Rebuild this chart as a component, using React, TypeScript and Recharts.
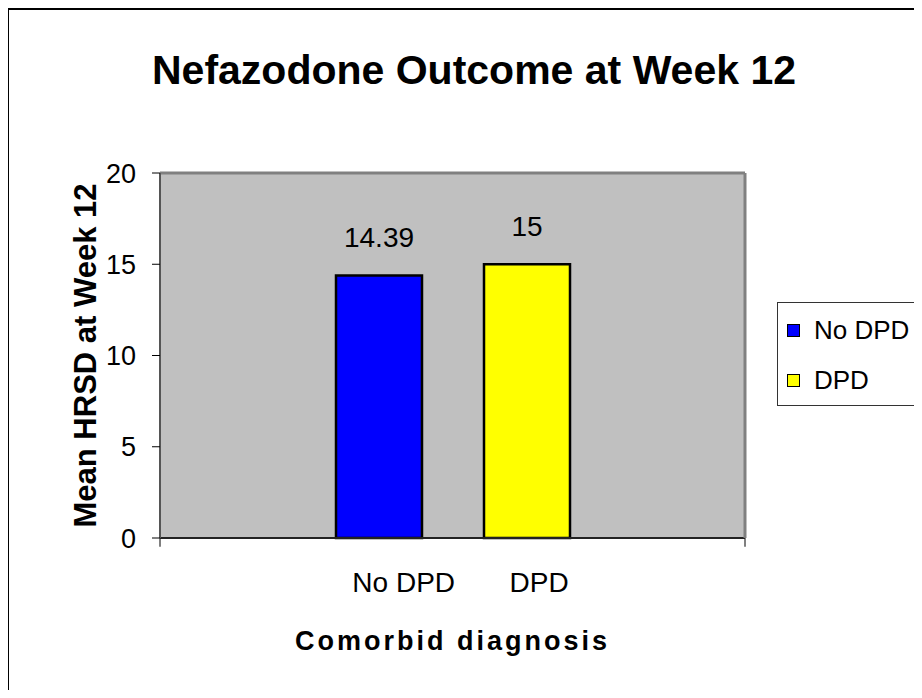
import { BarChart, Bar, XAxis, YAxis, Legend, LabelList, CartesianGrid, ReferenceLine } from 'recharts'

// one category holding two series, Excel style
const categories = ['No DPD       DPD']
const seriesNames = ['No DPD', 'DPD']
const seriesKeys = ['noDpd', 'dpd']
const seriesColors = ['#0000FF', '#FFFF00']
const noDpdValues = [14.39]
const dpdValues = [15]
const yTicks = [0, 5, 10, 15, 20]
const EDGE_TICK_DEPTH = -0.48 // in y units, small marks below the axis at the category edges

const data = categories.map((c, i) => ({ group: c, noDpd: noDpdValues[i], dpd: dpdValues[i] }))

const FONT = '"Liberation Sans", Arial, sans-serif'
const LEGEND_W = 170

function CategoryTick({ x, y, payload }: any) {
  return (
    <text x={x + 8} y={y + 46} textAnchor="middle" fontSize={28} fill="#000" fontFamily={FONT} style={{ whiteSpace: 'pre' }}>
      {payload.value}
    </text>
  )
}

function renderYLabel({ viewBox }: any) {
  const cy = viewBox.y + viewBox.height / 2
  const cx = viewBox.x + 85
  return (
    <text x={cx} y={cy} transform={`rotate(-90, ${cx}, ${cy})`} textAnchor="middle" dominantBaseline="central"
      fontSize={31} fontWeight="bold" fill="#000" fontFamily={FONT}>
      Mean HRSD at Week 12
    </text>
  )
}

function LegendBox({ payload }: any) {
  const items = [...(payload || [])].sort((a: any, b: any) => seriesNames.indexOf(a.value) - seriesNames.indexOf(b.value))
  return (
    <div style={{ border: '1px solid #333', width: LEGEND_W, height: 104, boxSizing: 'border-box', paddingTop: 2, paddingLeft: 9, fontFamily: FONT }}>
      {items.map((p: any) => (
        <div key={p.value} style={{ display: 'flex', alignItems: 'center', height: 50 }}>
          <span style={{ display: 'inline-block', width: 11, height: 11, background: p.color, border: '1.5px solid #000', marginRight: 14 }} />
          <span style={{ fontSize: 26, color: '#000' }}>{p.value}</span>
        </div>
      ))}
    </div>
  )
}

export default function App() {
  return (
    <div style={{ position: 'relative', margin: -8, width: 922, height: 698, overflow: 'hidden', background: '#fff', fontFamily: FONT }}>
      <div style={{ position: 'absolute', left: 6, top: 7, width: 1000, height: 800, border: '3px solid #000' }} />
      <div style={{ position: 'absolute', left: 0, width: 948, top: 50, textAlign: 'center', fontSize: 41, lineHeight: '40px', fontWeight: 'bold', color: '#000' }}>
        Nefazodone Outcome at Week 12
      </div>
      <div style={{ position: 'absolute', left: 0, top: 0 }}>
        <BarChart width={922} height={698} data={data} margin={{ top: 172, right: 177 - LEGEND_W - 1, left: 0, bottom: 0 }} barSize={86} barGap={62}>
          <CartesianGrid fill="#C0C0C0" horizontal={false} vertical={false} />
          <XAxis dataKey="group" tick={<CategoryTick />} tickLine={false} axisLine={{ stroke: '#222', strokeWidth: 2 }} height={160}
            label={{ value: 'Comorbid diagnosis', position: 'insideBottom', offset: 48, fontSize: 27, fontWeight: 'bold', fill: '#000', letterSpacing: 3, fontFamily: FONT }} />
          <XAxis xAxisId="top" dataKey="group" orientation="top" height={1} tick={false} tickLine={false} axisLine={{ stroke: '#808080', strokeWidth: 3 }} />
          <YAxis domain={[0, 20]} ticks={yTicks} width={160} tickSize={8} tickMargin={16}
            tick={{ fontSize: 27, fill: '#000', fontFamily: FONT }} tickLine={{ stroke: '#000' }}
            axisLine={{ stroke: '#555', strokeWidth: 2 }} label={renderYLabel} />
          <YAxis yAxisId="right" orientation="right" domain={[0, 20]} width={1} tick={false} tickLine={false}
            axisLine={{ stroke: '#808080', strokeWidth: 3 }} />
          {(['start', 'end'] as const).map(pos => (
            <ReferenceLine key={pos} position={pos} segment={[{ x: categories[0], y: 0 }, { x: categories[0], y: EDGE_TICK_DEPTH }]}
              stroke="#000" strokeWidth={1} ifOverflow="visible" />
          ))}
          <Legend content={<LegendBox />} layout="vertical" align="right" verticalAlign="middle" width={LEGEND_W}
            wrapperStyle={{ position: 'absolute', left: 777, top: 302, width: LEGEND_W }} />
          {seriesKeys.map((k, i) => (
            <Bar key={k} dataKey={k} name={seriesNames[i]} fill={seriesColors[i]} stroke="#000" strokeWidth={2.5} isAnimationActive={false}>
              <LabelList dataKey={k} position="top" offset={28} fontSize={28} fill="#000" fontFamily={FONT} />
            </Bar>
          ))}
        </BarChart>
      </div>
    </div>
  )
}
